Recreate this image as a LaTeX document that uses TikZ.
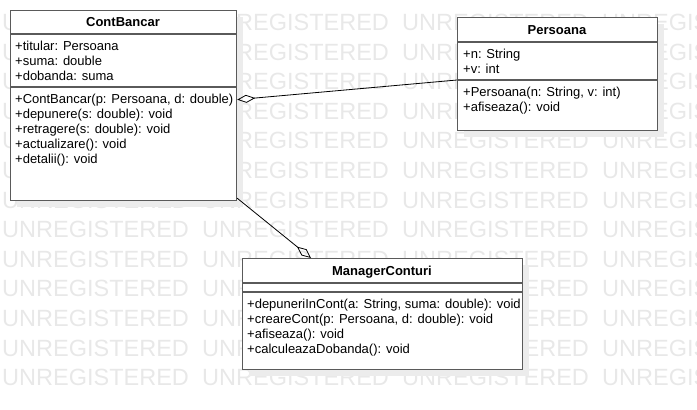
\documentclass[tikz,border=0pt]{standalone}
\usepackage{fontspec}
\setmainfont{Liberation Sans}
\usetikzlibrary{arrows.meta,shadows}
\definecolor{wmgray}{RGB}{232,232,232}
\definecolor{shadowgray}{RGB}{236,236,236}
\definecolor{boxline}{RGB}{90,90,90}
\tikzset{
  classbox/.style={draw=boxline, line width=1.2pt, fill=white, anchor=north west, inner sep=0pt,
    drop shadow={shadow xshift=6pt, shadow yshift=-6pt, fill=shadowgray, opacity=1}},
  sepline/.style={draw=boxline, line width=1.2pt},
  classname/.style={anchor=base, inner sep=0pt, font=\fontsize{13}{15}\selectfont\bfseries},
  member/.style={anchor=base west, inner sep=0pt, font=\fontsize{13}{15}\selectfont},
  wmark/.style={anchor=base west, inner sep=0pt, text=wmgray, font=\fontsize{23.5}{24}\selectfont},
  aggr/.style={draw, line width=0.8pt, -{Diamond[open, length=18pt, width=8pt]}},
}
\begin{document}
\begin{tikzpicture}[x=1pt,y=-1pt]
\useasboundingbox (0,0) rectangle (697,410);
\clip (0,0) rectangle (697,410);
% watermark
\foreach \r in {0,...,12}
  \foreach \c in {0,...,3}
    \node[wmark] (wm\r-\c) at (2+200*\c, 30.4+29.6*\r) {UNREGISTERED};

% ContBancar
\node[classbox, minimum width=226pt, minimum height=190pt] (cb) at (10,10) {};
\node[classname] (cbname) at (123,26.5) {ContBancar};
\path[sepline] (cb.west |- 0,34) -- (cb.east |- 0,34);
\node[member] (cbtit) at (15,50) {+titular: Persoana};
\node[member] (cbsum) at (15,65) {+suma: double};
\node[member] (cbdob) at (15,80) {+dobanda: suma};
\path[sepline] (cb.west |- 0,87) -- (cb.east |- 0,87);
\node[member] (cbctor) at (15,103) {+ContBancar(p: Persoana, d: double)};
\node[member] (cbdep) at (15,118) {+depunere(s: double): void};
\node[member] (cbret) at (15,133) {+retragere(s: double): void};
\node[member] (cbact) at (15,148) {+actualizare(): void};
\node[member] (cbdet) at (15,163) {+detalii(): void};

% Persoana
\node[classbox, minimum width=200pt, minimum height=113pt] (pe) at (457,17) {};
\node[classname] (pename) at (557,34) {Persoana};
\path[sepline] (pe.west |- 0,42) -- (pe.east |- 0,42);
\node[member] (pen) at (463,58) {+n: String};
\node[member] (pev) at (463,73) {+v: int};
\path[sepline] (pe.west |- 0,80) coordinate (pesep) -- (pe.east |- 0,80);
\node[member] (pector) at (463,96) {+Persoana(n: String, v: int)};
\node[member] (peafis) at (463,111) {+afiseaza(): void};

% ManagerConturi
\node[classbox, minimum width=280pt, minimum height=111pt] (mc) at (242,258) {};
\node[classname] (mcname) at (382,275) {ManagerConturi};
\path[sepline] (mc.west |- 0,283) -- (mc.east |- 0,283);
\path[sepline] (mc.west |- 0,292) -- (mc.east |- 0,292);
\node[member] (mcdep) at (247,308) {+depuneriInCont(a: String, suma: double): void};
\node[member] (mccre) at (247,323) {+creareCont(p: Persoana, d: double): void};
\node[member] (mcafis) at (247,338) {+afiseaza(): void};
\node[member] (mccalc) at (247,353) {+calculeazaDobanda(): void};

% aggregations
\path[aggr] (pesep) -- (cb.east |- cbctor.west);
\path[aggr] ([yshift=3pt]cb.south east) -- ([xshift=69pt]mc.north west);
\end{tikzpicture}
\end{document}
